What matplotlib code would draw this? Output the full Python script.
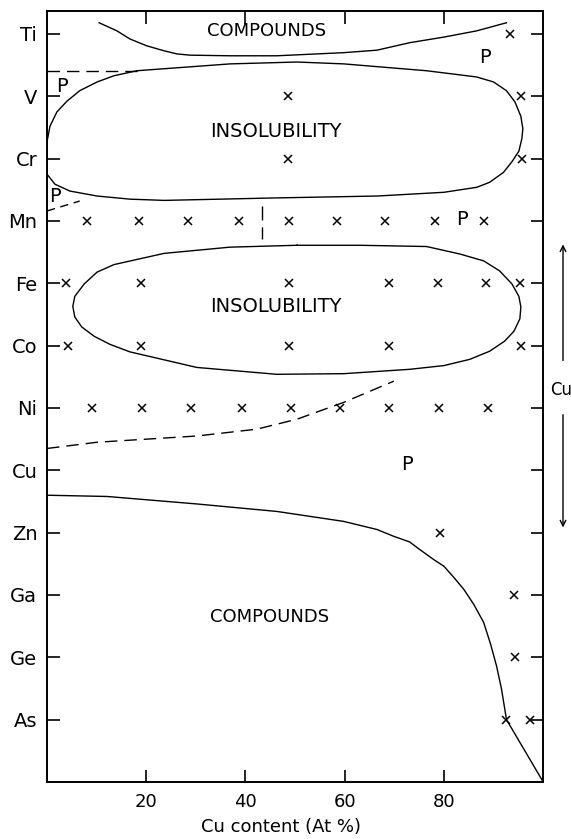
import matplotlib
matplotlib.use("Agg")
import matplotlib.pyplot as plt

plt.rcParams['font.family'] = ['DejaVu Sans']

# element rows, top to bottom
elements = ['Ti', 'V', 'Cr', 'Mn', 'Fe', 'Co', 'Ni', 'Cu', 'Zn', 'Ga', 'Ge', 'As']
rows = [12, 11, 10, 9, 8, 7, 6, 5, 4, 3, 2, 1]

# measured points (Cu content, At %) per element
points = {
    'Ti': [93.3],
    'V': [48.5, 95.5],
    'Cr': [48.5, 95.8],
    'Mn': [8.1, 18.5, 28.4, 38.7, 48.7, 58.4, 68.1, 78.1, 88.0],
    'Fe': [3.8, 18.9, 48.7, 68.9, 78.8, 88.4, 95.3],
    'Co': [4.2, 18.9, 48.7, 68.9, 95.5],
    'Ni': [9.1, 19.1, 29.0, 39.3, 49.1, 59.0, 68.9, 79.0, 88.8],
    'Zn': [79.2],
    'Ga': [94.1],
    'Ge': [94.3],
    'As': [92.6, 97.3],
}

# boundaries
ti_cmp_x = [10.5, 14.1, 16.7, 20.1, 23.6, 26.2, 28.8, 36.9, 46.3, 59.8, 66.5, 73.1, 80.0, 86.6, 92.6]
ti_cmp_y = [12.18, 12.05, 11.92, 11.81, 11.73, 11.68, 11.66, 11.65, 11.65, 11.70, 11.74, 11.86, 11.95, 12.05, 12.18]

loop1_x = [18.1, 36.9, 50.4, 59.8, 76.5, 86.6, 90.0, 92.6, 94.3, 95.5, 95.9, 95.7, 95.1, 93.7,
           92.0, 89.2, 86.6, 80.0, 66.5, 46.3, 23.6, 16.7, 10.1, 4.6, 1.6, 0.0, 0.0, 0.0,
           0.6, 2.0, 4.0, 6.6, 10.1, 13.5, 18.1]
loop1_y = [11.41, 11.52, 11.55, 11.52, 11.41, 11.31, 11.23, 11.09, 10.91, 10.68, 10.48, 10.32, 10.12, 9.95,
           9.78, 9.62, 9.54, 9.46, 9.40, 9.37, 9.33, 9.35, 9.40, 9.48, 9.59, 9.75, 9.96, 10.27,
           10.52, 10.75, 10.92, 11.09, 11.23, 11.33, 11.41]

loop2_x = [50.4, 63.0, 76.5, 83.2, 88.0, 91.2, 93.7, 95.1, 95.5, 95.3, 94.1, 92.2, 89.2, 85.2,
           80.0, 73.1, 59.8, 46.3, 30.2, 16.7, 12.7, 9.5, 7.0, 5.6, 5.2, 5.6, 7.5, 10.1,
           13.5, 23.6, 36.9, 50.4]
loop2_y = [8.61, 8.61, 8.59, 8.47, 8.36, 8.20, 7.99, 7.79, 7.62, 7.43, 7.23, 7.07, 6.91, 6.78,
           6.68, 6.62, 6.55, 6.54, 6.65, 6.90, 7.02, 7.15, 7.30, 7.46, 7.63, 7.79, 7.99, 8.18,
           8.30, 8.48, 8.58, 8.61]

zn_cmp_x = [0, 12.1, 30.2, 46.3, 59.8, 66.5, 69.9, 73.1, 75.1, 77.9, 80.0, 82.0, 84.0, 86.0,
            88.0, 89.4, 90.6, 91.6, 92.6, 100]
zn_cmp_y = [4.60, 4.58, 4.46, 4.34, 4.18, 4.05, 3.94, 3.85, 3.73, 3.57, 3.46, 3.28, 3.09, 2.85,
            2.56, 2.21, 1.86, 1.49, 1.0, 0.0]

ni_dash_x = [0, 10.1, 30.2, 42.3, 50.4, 59.8, 69.9]
ni_dash_y = [5.35, 5.45, 5.55, 5.66, 5.82, 6.09, 6.43]

fig = plt.figure(figsize=(5.71, 8.39), dpi=100)
ax = fig.add_axes([0.0823, 0.068, 0.869, 0.919])

for el, xs in points.items():
    r = rows[elements.index(el)]
    ax.plot(xs, [r] * len(xs), ls='none', marker='x', color='black', ms=5.5, mew=1.1)

lw = 1.0
ax.plot(ti_cmp_x, ti_cmp_y, color='black', lw=lw)
ax.plot(loop1_x, loop1_y, color='black', lw=lw)
ax.plot(loop2_x, loop2_y, color='black', lw=lw)
ax.plot(zn_cmp_x, zn_cmp_y, color='black', lw=lw)

dash = (9, 5)
ax.plot([0, 18.1], [11.41, 11.41], color='black', lw=lw, dashes=dash)
ax.plot([0, 6.6], [9.16, 9.32], color='black', lw=lw, dashes=(6, 4))
ax.plot([43.3, 43.3], [9.24, 8.71], color='black', lw=lw, dashes=(10, 5))
ax.plot(ni_dash_x, ni_dash_y, color='black', lw=lw, dashes=dash)

ax.text(44.2, 12.04, 'COMPOUNDS', fontsize=13, ha='center', va='center')
ax.text(46.1, 10.44, 'INSOLUBILITY', fontsize=14, ha='center', va='center')
ax.text(46.1, 7.62, 'INSOLUBILITY', fontsize=14, ha='center', va='center')
ax.text(44.9, 2.64, 'COMPOUNDS', fontsize=13, ha='center', va='center')
for px, py in [(3.0, 11.15), (1.6, 9.40), (88.2, 11.63), (83.6, 9.03), (72.5, 5.10)]:
    ax.text(px, py, 'P', fontsize=14, ha='center', va='center')

ax.set_xlim(0, 100)
ax.set_ylim(0, 12.37)
ax.set_xticks([20, 40, 60, 80])
ax.set_xticklabels(['20', '40', '60', '80'], fontsize=13)
ax.set_yticks(rows)
ax.set_yticklabels(elements, fontsize=14)
ax.tick_params(axis='both', direction='in', length=9, width=1.2,
               top=True, right=True, color='black')
ax.tick_params(axis='x', pad=8)
ax.tick_params(axis='y', pad=7)
ax.set_xlabel('Cu content (At %)', fontsize=13)
ax.xaxis.set_label_coords(0.472, -0.047)
for s in ax.spines.values():
    s.set_linewidth(1.4)

# Cu arrow at right margin
ax.annotate('', xy=(0.986, 0.712), xytext=(0.986, 0.567), xycoords='figure fraction',
            arrowprops=dict(arrowstyle='->', color='black', lw=1.0))
ax.annotate('', xy=(0.986, 0.368), xytext=(0.986, 0.509), xycoords='figure fraction',
            arrowprops=dict(arrowstyle='->', color='black', lw=1.0))
fig.text(0.963, 0.535, 'Cu', fontsize=12, ha='left', va='center')

fig.savefig('out.png', dpi=100)
